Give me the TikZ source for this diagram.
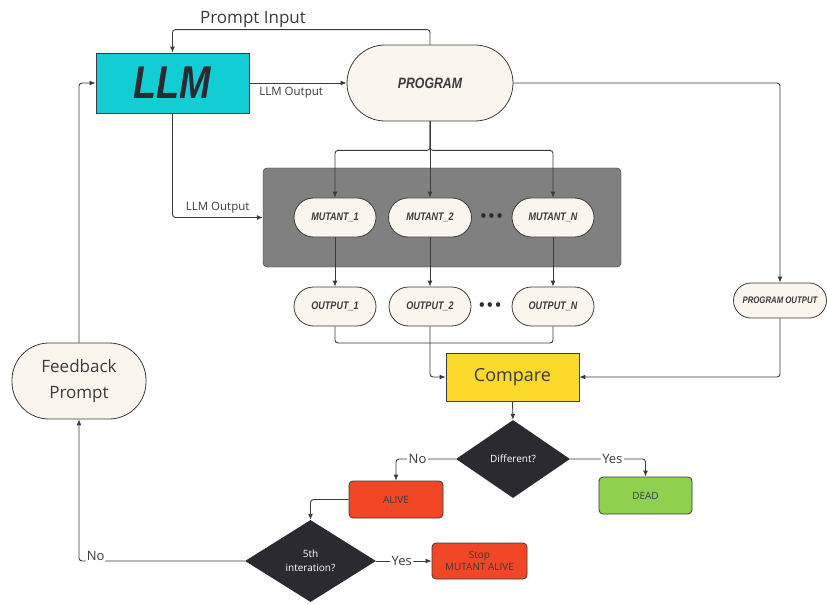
\documentclass[tikz,border=0pt]{standalone}
\usepackage{fontspec}
\setmainfont{Open Sans}
\newfontfamily\markfont[FakeStretch=0.82]{Liberation Sans}
\usetikzlibrary{arrows.meta,shapes.geometric,shapes.misc}
\definecolor{Ink}{HTML}{3B3B3D}
\definecolor{Cream}{HTML}{FAF6EE}
\definecolor{Cyan}{HTML}{12CDD4}
\definecolor{Pool}{HTML}{808080}
\definecolor{Sun}{HTML}{FCD92B}
\definecolor{Tomato}{HTML}{F24726}
\definecolor{Lime}{HTML}{8FD14F}
\definecolor{Coal}{HTML}{2B2A30}

\begin{document}
\begin{tikzpicture}[x=1pt,y=-1pt,>={Latex[length=6pt,width=5pt]},
  every node/.style={text=Ink},
  line/.style={draw=Ink,line width=0.9pt,rounded corners=3pt},
  pill/.style={rounded rectangle,draw=Ink,line width=0.8pt,fill=Cream,inner sep=2pt,
    font=\fontsize{11}{11}\selectfont\markfont\bfseries\itshape},
  boxy/.style={rectangle,draw=Ink,line width=0.8pt,rounded corners=4pt,
    font=\fontsize{10}{12}\selectfont,align=center},
  choice/.style={diamond,fill=Coal,inner sep=0pt,minimum width=114pt,minimum height=78pt,
    text=white,font=\fontsize{10}{14}\selectfont,align=center},
  tag/.style={fill=white,inner sep=1.5pt,font=\fontsize{13}{13}\selectfont},
  dots/.style={text=Coal,font=\fontsize{15}{15}\selectfont\bfseries}]
\fill[white] (0,0) rectangle (827,604);
\useasboundingbox (0,0) rectangle (827,604);

% top row
\node[rectangle,draw=Ink,line width=0.8pt,fill=Cyan,minimum width=153pt,minimum height=60pt,
  font=\fontsize{46}{46}\selectfont\markfont\bfseries\itshape,text=Coal] (llm) at (172.5,83) {LLM};
\node[pill,minimum width=170pt,minimum height=76pt,font=\fontsize{15}{15}\selectfont\markfont\bfseries\itshape] (prog) at (430,83) {PROGRAM};
\node[font=\fontsize{17}{17}\selectfont] (prompt) at (253,19) {Prompt Input};
\node[pill,minimum width=97pt,minimum height=35pt,font=\fontsize{9.5}{10}\selectfont\markfont\bfseries\itshape] (progout) at (780,300.5) {PROGRAM OUTPUT};

% mutants
\node[rectangle,draw=Ink!80!black,fill=Pool,rounded corners=4pt,minimum width=358pt,minimum height=99pt] (pool) at (442,217.5) {};
\node[pill,minimum width=86pt,minimum height=39pt] (m1) at (335,217.5) {MUTANT\_1};
\node[pill,minimum width=87pt,minimum height=39pt] (m2) at (430,217.5) {MUTANT\_2};
\node[pill,minimum width=86pt,minimum height=39pt] (mN) at (553,217.5) {MUTANT\_N};
\node[dots] (dots1) at (491.5,218) {\textbullet\,\textbullet\,\textbullet};

% outputs
\node[pill,minimum width=86pt,minimum height=39pt] (o1) at (335,306.5) {OUTPUT\_1};
\node[pill,minimum width=86pt,minimum height=39pt] (o2) at (430,306.5) {OUTPUT\_2};
\node[pill,minimum width=86pt,minimum height=39pt] (oN) at (553,306.5) {OUTPUT\_N};
\node[dots] (dots2) at (490,306.5) {\textbullet\,\textbullet\,\textbullet};

% decision part
\node[rectangle,draw=Ink,line width=0.8pt,fill=Sun,minimum width=133pt,minimum height=48pt,
  font=\fontsize{18}{18}\selectfont] (cmp) at (512.5,377) {Compare};
\node[choice] (diff) at (513,459) {Different?};
\node[boxy,fill=Tomato,minimum width=94pt,minimum height=37pt] (alive) at (396,499.5) {ALIVE};
\node[boxy,fill=Lime,minimum width=93pt,minimum height=37pt] (dead) at (645.5,495.5) {DEAD};
\node[choice,minimum width=131pt,minimum height=82pt] (fifth) at (310.5,561) {5th\\interation?};
\node[boxy,fill=Tomato,minimum width=95pt,minimum height=36pt] (stop) at (479.5,561) {Stop\\MUTANT ALIVE};
\node[rectangle,rounded corners=37pt,draw=Ink,line width=0.8pt,fill=Cream,minimum width=134pt,minimum height=76pt,
  align=center,font=\fontsize{17}{26}\selectfont] (fb) at (79,381) {Feedback\\Prompt};

% connectors
\draw[line,->] (prog.north) -- ++(0,-15) -| (llm.north);
\draw[line,->] (llm.east) -- (prog.west) node[pos=0.43,below,font=\fontsize{11.5}{11.5}\selectfont]{LLM Output};
\draw[line,->] (fb.north) |- (llm.west);
\draw[line,->] (prog.east) -| (progout.north);
\draw[line,->] (progout.south) |- (cmp.east);
\draw[line,->] (prog.south) -- ++(0,29) -| (m1.north);
\draw[line,->] (prog.south) -- (m2.north);
\draw[line,->] (prog.south) -- ++(0,29) -| (mN.north);
\draw[line,->] (llm.south) |- (pool.west) node[pos=0.75,above,font=\fontsize{11.5}{11.5}\selectfont]{LLM Output};
\draw[line,->] (m1.south) -- (o1.north);
\draw[line,->] (m2.south) -- (o2.north);
\draw[line,->] (mN.south) -- (oN.north);
\coordinate (join) at (430,343);
\draw[line] (o1.south) |- (join);
\draw[line] (oN.south) |- (join);
\draw[line,->] (o2.south) |- (cmp.west);
\draw[line,->] (cmp.south) -- (diff.north);
\draw[line,->] (diff.west) -| (alive.north) node[tag,pos=0.32]{No};
\draw[line,->] (diff.east) -| (dead.north) node[tag,pos=0.28]{Yes};
\draw[line,->] (alive.west) -| (fifth.north);
\draw[line,->] (fifth.east) -- (stop.west) node[tag,pos=0.46]{Yes};
\draw[line,->] (fifth.west) -| (fb.south) node[tag,pos=0.45,yshift=5pt]{No};
\end{tikzpicture}
\end{document}
